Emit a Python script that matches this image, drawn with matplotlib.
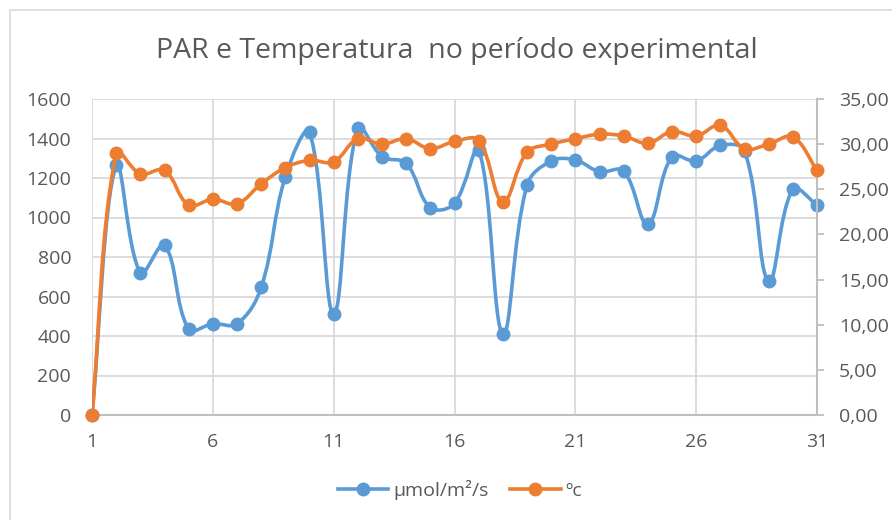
import matplotlib
matplotlib.use("Agg")
import matplotlib.pyplot as plt
from matplotlib.path import Path
from matplotlib.patches import PathPatch
from matplotlib.lines import Line2D
import numpy as np

# ---- data ----
days = list(range(1, 32))
par = [0, 1265, 720, 860, 435, 462, 462, 646, 1207, 1431, 510, 1455, 1308, 1274,
       1050, 1072, 1342, 410, 1163, 1286, 1291, 1232, 1235, 965, 1308, 1286,
       1365, 1337, 677, 1143, 1063]
temp = [0, 29.05, 26.7, 27.1, 23.25, 23.9, 23.4, 25.6, 27.4, 28.2, 28.05, 30.6,
        30.0, 30.6, 29.5, 30.3, 30.4, 23.6, 29.1, 30.0, 30.6, 31.1, 30.9, 30.1,
        31.4, 30.9, 32.1, 29.5, 30.0, 30.8, 27.1]
x_ticks = [1, 6, 11, 16, 21, 26, 31]
left_ticks = list(range(0, 1601, 200))
right_ticks = [0, 5, 10, 15, 20, 25, 30, 35]
title = "PAR e Temperatura  no período experimental"
labels = ["µmol/m²/s", "ºc"]

BLUE = "#5B9BD5"
ORANGE = "#ED7D31"
GRID = "#D9D9D9"
AXIS = "#BFBFBF"
TXT = "#595959"
FONT = ["Open Sans", "DejaVu Sans"]

plt.rcParams["font.family"] = FONT

W, H = 892, 520
fig = plt.figure(figsize=(W / 100, H / 100), dpi=100)

L, R, T, B = 92, 817, 99, 415
ax = fig.add_axes([L / W, 1 - B / H, (R - L) / W, (B - T) / H])
ax2 = ax.twinx()

ax.set_xlim(1, 31)
ax.set_ylim(0, 1600)
ax2.set_ylim(0, 35)


def smooth_path(axes, xs, ys, k=0.38):
    """Excel-like smoothed line: cubic Bezier segments built in display space."""
    tr = axes.transData
    pts = tr.transform(np.column_stack([xs, ys]).astype(float))
    n = len(pts)
    verts = [pts[0]]
    codes = [Path.MOVETO]
    for i in range(n - 1):
        p1 = pts[i]
        p2 = pts[i + 1]
        p0 = pts[i - 1] if i > 0 else p1
        p3 = pts[i + 2] if i + 2 < n else p2
        d01 = np.hypot(*(p1 - p0))
        d12 = np.hypot(*(p2 - p1))
        d23 = np.hypot(*(p3 - p2))
        if i == 0:
            c1 = p1 + (p2 - p1) / 3.0
        else:
            c1 = p1 + (p2 - p0) * (d12 / (d01 + d12)) * k
        if i + 2 >= n:
            c2 = p2 - (p2 - p1) / 3.0
        else:
            c2 = p2 - (p3 - p1) * (d12 / (d12 + d23)) * k
        verts += [c1, c2, p2]
        codes += [Path.CURVE4] * 3
    verts = tr.inverted().transform(np.array(verts))
    return Path(verts, codes)


ax.add_patch(PathPatch(smooth_path(ax, days, par), fill=False, edgecolor=BLUE,
                       lw=2.6, capstyle="round", joinstyle="round", zorder=3))
ax.plot(days, par, ls="none", marker="o", ms=9, color=BLUE, clip_on=False, zorder=4)

ax2.add_patch(PathPatch(smooth_path(ax2, days, temp), fill=False, edgecolor=ORANGE,
                        lw=2.6, capstyle="round", joinstyle="round", zorder=3))
ax2.plot(days, temp, ls="none", marker="o", ms=9, color=ORANGE, clip_on=False, zorder=4)

ax.set_xticks(x_ticks)
ax.set_yticks(left_ticks)
ax2.set_yticks(right_ticks)
ax2.set_yticklabels([f"{v:.2f}".replace(".", ",") for v in right_ticks])

ax.grid(True, color=GRID, lw=1.3)
ax.set_axisbelow(True)
for s in ["top", "left", "right"]:
    ax.spines[s].set_visible(False)
for s in ["top", "left", "bottom"]:
    ax2.spines[s].set_visible(False)
ax.spines["bottom"].set_color(AXIS)
ax.spines["bottom"].set_linewidth(1.5)
ax2.spines["right"].set_color(AXIS)
ax2.spines["right"].set_linewidth(1.5)

ax.tick_params(axis="x", length=0, pad=13, labelsize=14, labelcolor=TXT)
ax.tick_params(axis="y", length=0, pad=15, labelsize=14, labelcolor=TXT)
ax2.tick_params(axis="y", length=5, width=1.3, color=AXIS, pad=11,
                labelsize=14, labelcolor=TXT)

fig.text(457 / W, 1 - 51 / H, title, ha="center", va="center",
         fontsize=20.5, color=TXT)

handles = [Line2D([], [], color=BLUE, lw=2.6, marker="o", ms=9),
           Line2D([], [], color=ORANGE, lw=2.6, marker="o", ms=9)]
fig.legend(handles, labels, loc="center", bbox_to_anchor=(460 / W, 1 - 490 / H),
           ncol=2, frameon=False, fontsize=14, labelcolor=TXT,
           handlelength=2.6, handletextpad=0.25, columnspacing=1.1)

# chart border (top and left edges visible in the crop)
fig.add_artist(Line2D([10 / W, 1], [1 - 10 / H, 1 - 10 / H], color=GRID, lw=1.2,
                      transform=fig.transFigure))
fig.add_artist(Line2D([10 / W, 10 / W], [0, 1 - 10 / H], color=GRID, lw=1.2,
                      transform=fig.transFigure))

fig.savefig("out.png", dpi=100, facecolor="white")
